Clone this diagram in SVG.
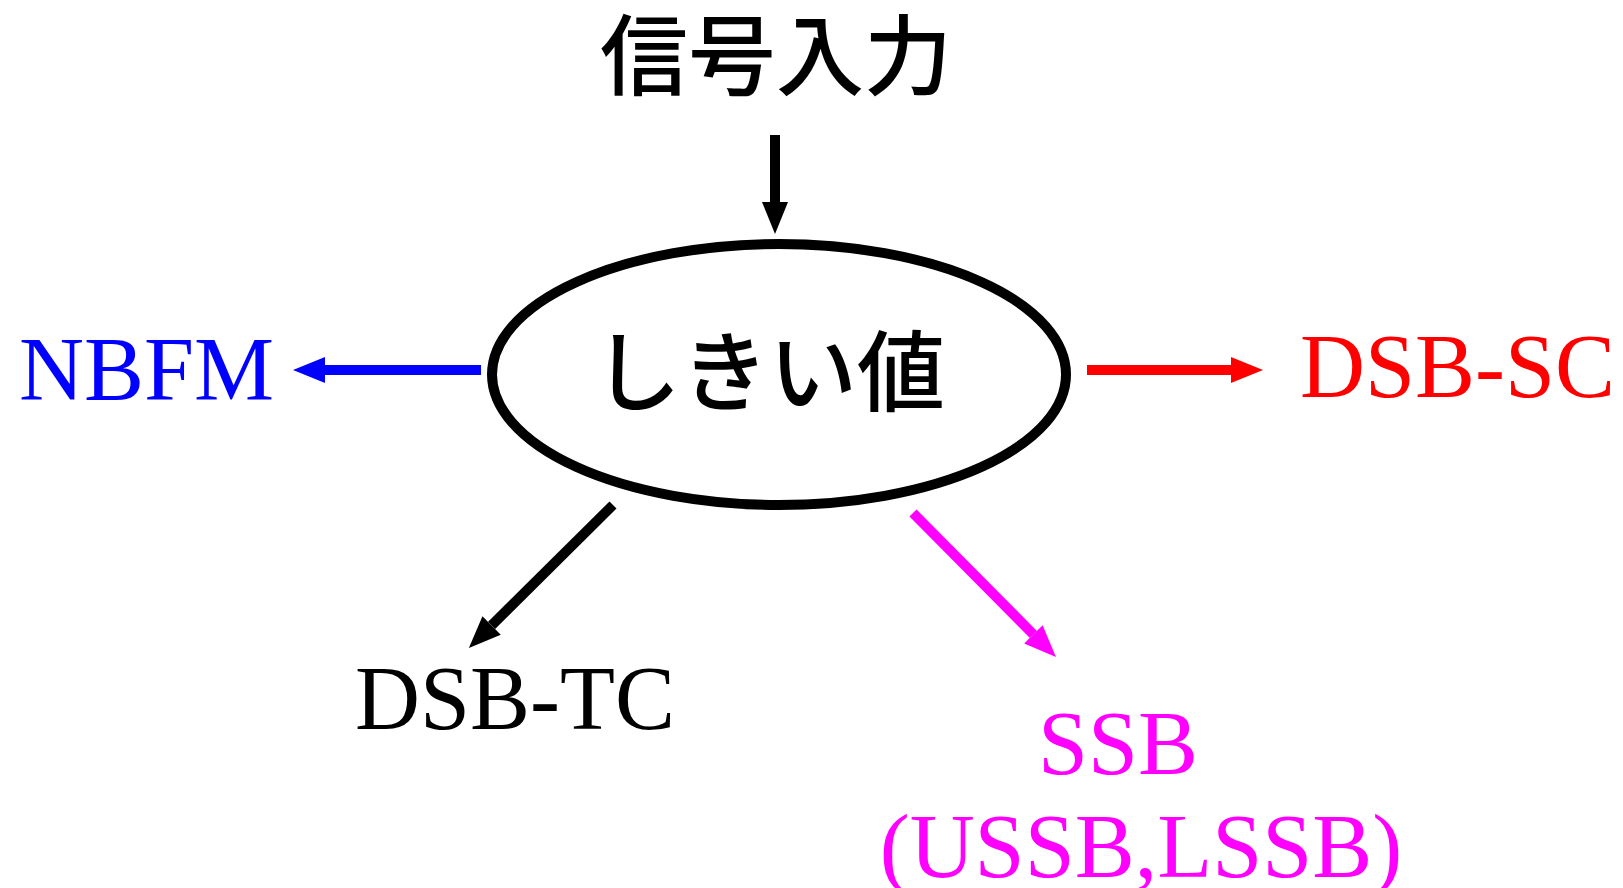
<svg xmlns="http://www.w3.org/2000/svg" width="1623" height="888" viewBox="0 0 1623 888">
<style>
.cjk{font-family:"Noto Sans CJK JP","Noto Sans CJK SC",sans-serif;font-size:88px;font-weight:500;fill:#000}
.lat{font-family:"Liberation Serif","Times New Roman",serif;font-size:90px}
.edge{stroke-width:10;fill:none}
</style>
<defs>
<marker id="hk" markerUnits="userSpaceOnUse" markerWidth="32" markerHeight="26" refX="0" refY="13" orient="auto" overflow="visible"><path d="M0,0 L32,13 L0,26 z" fill="#000"/></marker>
<marker id="hb" markerUnits="userSpaceOnUse" markerWidth="32" markerHeight="26" refX="0" refY="13" orient="auto" overflow="visible"><path d="M0,0 L32,13 L0,26 z" fill="#0000ff"/></marker>
<marker id="hr" markerUnits="userSpaceOnUse" markerWidth="32" markerHeight="26" refX="0" refY="13" orient="auto" overflow="visible"><path d="M0,0 L32,13 L0,26 z" fill="#ff0000"/></marker>
<marker id="hm" markerUnits="userSpaceOnUse" markerWidth="32" markerHeight="26" refX="0" refY="13" orient="auto" overflow="visible"><path d="M0,0 L32,13 L0,26 z" fill="#ff00ff"/></marker>
</defs>
<rect width="1623" height="888" fill="#fff"/>
<g id="input"><text class="cjk" x="776" y="88" text-anchor="middle">信号入力</text></g>
<g id="threshold">
<ellipse cx="779" cy="374.5" rx="287" ry="130.5" fill="none" stroke="#000" stroke-width="10"/>
<text class="cjk" x="769" y="404" text-anchor="middle">しきい値</text>
</g>
<g id="nbfm"><text class="lat" x="19" y="400" fill="#0000ff">NBFM</text></g>
<g id="dsbsc"><text class="lat" x="1300" y="397" fill="#ff0000">DSB-SC</text></g>
<g id="dsbtc"><text class="lat" x="355" y="729" fill="#000">DSB-TC</text></g>
<g id="ssb">
<text class="lat" x="1118" y="774" fill="#ff00ff" text-anchor="middle">SSB</text>
<text class="lat" x="1141" y="877" fill="#ff00ff" text-anchor="middle">(USSB,LSSB)</text>
</g>
<g id="connectors">
<line class="edge" x1="775" y1="135" x2="775" y2="202" stroke="#000" marker-end="url(#hk)"/>
<line class="edge" x1="481" y1="370" x2="325" y2="370" stroke="#0000ff" marker-end="url(#hb)"/>
<line class="edge" x1="1087" y1="370" x2="1231" y2="370" stroke="#ff0000" marker-end="url(#hr)"/>
<line class="edge" x1="613" y1="505" x2="491.6" y2="625.4" stroke="#000" marker-end="url(#hk)"/>
<line class="edge" x1="913" y1="513" x2="1033.4" y2="634.4" stroke="#ff00ff" marker-end="url(#hm)"/>
</g>
</svg>
